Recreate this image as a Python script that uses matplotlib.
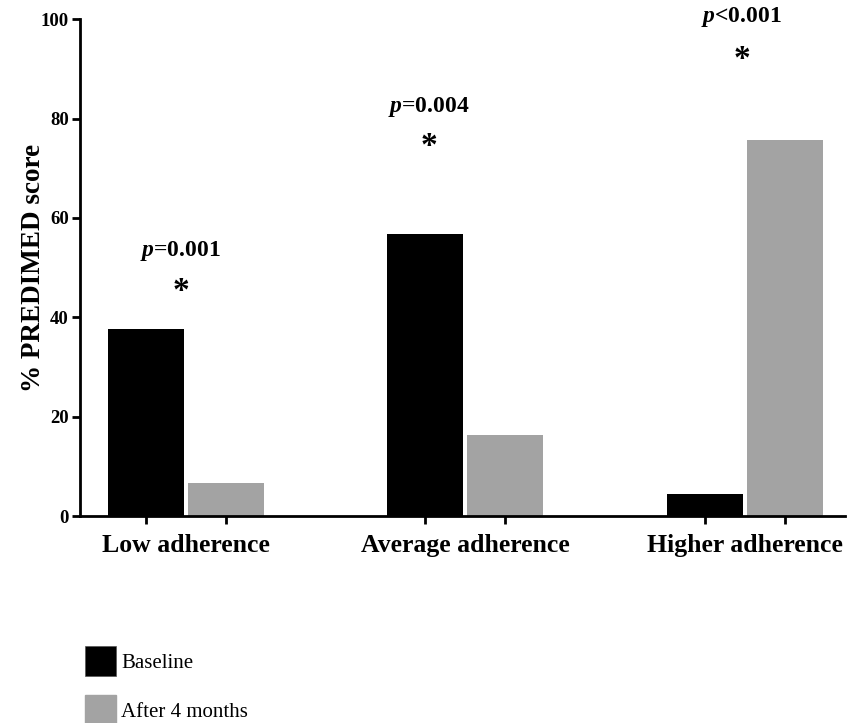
import numpy as np
import matplotlib
matplotlib.use('Agg')
import matplotlib.pyplot as plt
from matplotlib.patches import Patch

categories = ['Low adherence', 'Average adherence', 'Higher adherence']
baseline = [37.7, 56.7, 4.4]
after_4m = [6.7, 16.3, 75.6]
p_labels = [r'$\mathit{p}$=0.001', r'$\mathit{p}$=0.004', r'$\mathit{p}$<0.001']
p_text_y = [53.4, 82.3, 100.4]
star_y = [46.6, 75.8, 93.5]
p_offsets = [-0.02, -0.13, -0.01]

plt.rcParams['font.family'] = ['Liberation Serif', 'DejaVu Serif']
plt.rcParams['mathtext.fontset'] = 'custom'
plt.rcParams['mathtext.it'] = 'Liberation Serif:italic:bold'
plt.rcParams['mathtext.rm'] = 'Liberation Serif:bold'
plt.rcParams['mathtext.bf'] = 'Liberation Serif:bold'

color_base = '#000000'
color_after = '#a3a3a3'

fig = plt.figure(figsize=(8.57, 7.23), dpi=100)
ax = fig.add_axes([0.0933, 0.2863, 0.893, 0.687])

x = np.arange(len(categories))
w = 0.272
gap = 0.007
ax.bar(x - w / 2 - gap, baseline, width=w, color=color_base)
ax.bar(x + w / 2 + gap, after_4m, width=w, color=color_after)

ax.set_xlim(-0.38, 2.36)
ax.set_ylim(0, 100)
ax.set_yticks([0, 20, 40, 60, 80, 100])

tick_pos = np.concatenate([x - w / 2 - gap, x + w / 2 + gap])
ax.set_xticks(tick_pos)
ax.set_xticklabels([])
for xi, name in zip(x, categories):
    ax.text(xi, -3.6, name, ha='center', va='top', fontsize=18.5, fontweight='bold')

for sp in ['top', 'right']:
    ax.spines[sp].set_visible(False)
for sp in ['left', 'bottom']:
    ax.spines[sp].set_linewidth(2)
ax.tick_params(axis='both', width=2, length=6, direction='out')
ax.tick_params(axis='y', labelsize=13.5, pad=2)
for lbl in ax.get_yticklabels():
    lbl.set_fontweight('bold')

ax.set_ylabel('% PREDIMED score', fontsize=19.5, fontweight='bold')
ax.yaxis.set_label_coords(-0.045, 0.5)

for xi, lab, ty, sy, off in zip(x, p_labels, p_text_y, star_y, p_offsets):
    ax.text(xi + off, ty, lab, ha='center', va='center', fontsize=17,
            fontweight='bold', clip_on=False)
    ax.text(xi + off, sy - 1.5, '*', ha='center', va='center', fontsize=24,
            fontweight='bold', clip_on=False)

handles = [Patch(facecolor=color_base, edgecolor='#555555', linewidth=0.5, label='Baseline'),
           Patch(facecolor=color_after, edgecolor=color_after, label='After 4 months')]
fig.legend(handles=handles, loc='lower left', bbox_to_anchor=(0.077, -0.03),
           frameon=False, fontsize=15, handlelength=1.5, handleheight=1.9,
           labelspacing=0.9, handletextpad=0.25)

fig.savefig('out.png', dpi=100)
